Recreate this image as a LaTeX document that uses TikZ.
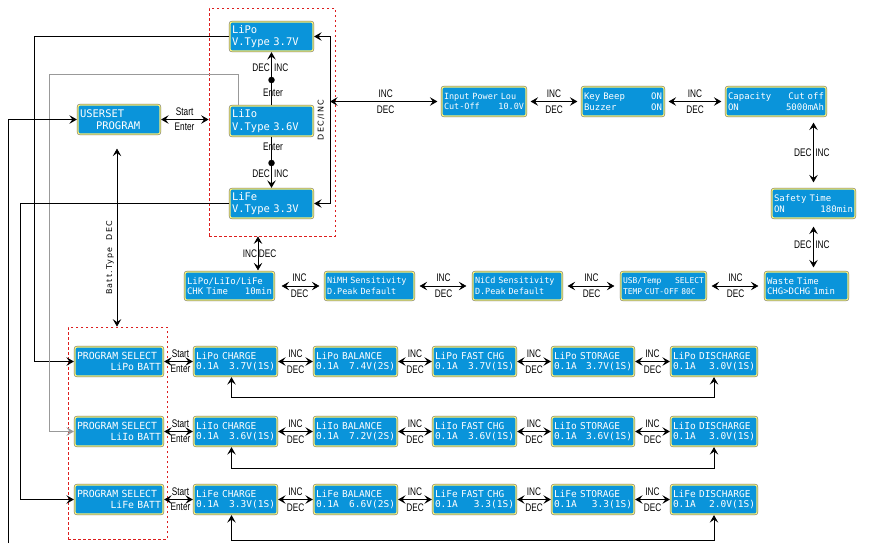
\documentclass[tikz,border=0pt]{standalone}
\usepackage{fontspec}
\setmainfont{Liberation Sans}
\newfontfamily\lcdfont{DejaVu Sans Mono}
\newfontfamily\labfont[FakeStretch=0.75]{Liberation Sans}
\newfontfamily\rotfont[LetterSpace=15]{DejaVu Sans}
\usetikzlibrary{arrows.meta,calc}
\definecolor{lcdblue}{RGB}{10,148,218}
\definecolor{lcdyellow}{RGB}{248,240,120}
\definecolor{lcdedge}{RGB}{110,110,100}
\definecolor{dashred}{RGB}{220,30,30}
\newcommand\lcdbox[7][]{%
  \pgfmathsetmacro\lcdW{#5-#3}%
  \pgfmathsetmacro\lcdH{#6-#4}%
  \pgfmathsetmacro\lcdT{#5-#3-4}%
  \pgfmathsetmacro\lcdX{(#3+#5)/2}%
  \pgfmathsetmacro\lcdY{(#4+#6)/2}%
  \node[lcd, minimum width=\lcdW pt, minimum height=\lcdH pt, text width=\lcdT pt, #1] (#2) at (\lcdX,\lcdY) {#7};}
\tikzset{
  lcd/.style={rectangle, rounded corners=2pt, fill=lcdblue, draw=lcdyellow, line width=1.2pt,
    preaction={draw=lcdedge, line width=2.2pt}, text=white,
    font=\lcdfont\fontsize{9}{10.5}\selectfont, inner sep=1.5pt, align=left},
  bigl/.style={font=\lcdfont\fontsize{10.5}{12.5}\selectfont},
  midl/.style={font=\lcdfont\fontsize{9.8}{11}\selectfont},
  botl/.style={font=\lcdfont\fontsize{9.5}{10.5}\selectfont},
  sml/.style={font=\lcdfont\fontsize{8.5}{10.5}\selectfont},
  smll/.style={font=\lcdfont\fontsize{8}{10.5}\selectfont},
  tipst/.tip={Stealth[length=7.5pt,width=8.5pt,inset=3pt]},
  arr/.style={-tipst, line width=0.8pt},
  darr/.style={tipst-tipst, line width=0.8pt},
  lab/.style={font=\labfont\fontsize{11}{12}\selectfont, inner sep=0pt},
  rot/.style={font=\rotfont\fontsize{8}{9}\selectfont, inner sep=0pt, rotate=90},
  dashbox/.style={draw=dashred, dash pattern=on 2.5pt off 2.5pt, line width=0.8pt, inner sep=0pt},
  dotn/.style={circle, fill=black, inner sep=0pt, minimum size=6.5pt},
  inclab/.style={lab, anchor=south, yshift=3.5pt},
  declab/.style={lab, anchor=north, yshift=-3.5pt}
}
\begin{document}
\begin{tikzpicture}[x=1pt, y=-1pt]
\useasboundingbox (0,0) rectangle (870,555);
% dashed frames
\node[dashbox, minimum width=126pt, minimum height=228pt] (dbTop) at (272,122) {};
\node[dashbox, minimum width=99pt, minimum height=212pt] (dbBot) at (117.5,433) {};
% top battery type boxes
\lcdbox[bigl]{tLiPo}{230}{22}{313}{51}{LiPo\\V.Type 3.7V}
\lcdbox[bigl]{tLiIo}{230}{106}{313}{136}{LiIo\\V.Type 3.6V}
\lcdbox[bigl]{tLiFe}{230}{189}{313}{218}{LiFe\\V.Type 3.3V}
\lcdbox[bigl]{user}{78}{105}{160}{134}{USERSET\\\hspace*{16pt}PROGRAM}
% settings top row
\lcdbox[sml]{ip}{442}{87}{526}{116}{Input Power Lou\\Cut-Off\hfill 10.0V}
\lcdbox{kb}{582}{87}{664}{116}{Key Beep\hfill ON\\Buzzer\hfill ON}
\lcdbox{cap}{726}{87}{826}{116}{Capacity\hfill Cut off\\ON\hfill 5000mAh}
\lcdbox{safe}{772}{189}{855}{218}{Safety Time\\ON\hfill 180min}
% settings second row
\lcdbox{waste}{765}{272}{848}{300}{Waste Time\\CHG>DCHG 1min}
\lcdbox[smll]{usb}{621}{272}{706}{300}{USB/Temp\hfill SELECT\\TEMP CUT-OFF 80C}
\lcdbox[sml]{nicd}{473}{272}{562}{300}{NiCd Sensitivity\\D.Peak Default}
\lcdbox[sml]{nimh}{325}{272}{414}{300}{NiMH Sensitivity\\D.Peak Default}
\lcdbox{chk}{185}{272}{274}{300}{LiPo/LiIo/LiFe\\CHK Time\hfill 10min}
% program rows
\lcdbox[midl]{p1}{75}{347}{163}{376}{PROGRAM SELECT\\\hspace*{\fill}LiPo BATT}
\lcdbox[botl]{c1}{194}{347}{277}{376}{LiPo CHARGE\\0.1A\hfill 3.7V(1S)}
\lcdbox[botl]{b1}{314}{347}{397}{376}{LiPo BALANCE\\0.1A\hfill 7.4V(2S)}
\lcdbox[botl]{f1}{433}{347}{516}{376}{LiPo FAST CHG\\0.1A\hfill 3.7V(1S)}
\lcdbox[botl]{s1}{552}{347}{634}{376}{LiPo STORAGE\\0.1A\hfill 3.7V(1S)}
\lcdbox[botl]{d1}{671}{347}{757}{376}{LiPo DISCHARGE\\0.1A\hfill 3.0V(1S)}
\lcdbox[midl]{p2}{75}{417}{163}{446}{PROGRAM SELECT\\\hspace*{\fill}LiIo BATT}
\lcdbox[botl]{c2}{194}{417}{277}{446}{LiIo CHARGE\\0.1A\hfill 3.6V(1S)}
\lcdbox[botl]{b2}{314}{417}{397}{446}{LiIo BALANCE\\0.1A\hfill 7.2V(2S)}
\lcdbox[botl]{f2}{433}{417}{516}{446}{LiIo FAST CHG\\0.1A\hfill 3.6V(1S)}
\lcdbox[botl]{s2}{552}{417}{634}{446}{LiIo STORAGE\\0.1A\hfill 3.6V(1S)}
\lcdbox[botl]{d2}{671}{417}{757}{446}{LiIo DISCHARGE\\0.1A\hfill 3.0V(1S)}
\lcdbox[midl]{p3}{75}{485}{163}{514}{PROGRAM SELECT\\\hspace*{\fill}LiFe BATT}
\lcdbox[botl]{c3}{194}{485}{277}{514}{LiFe CHARGE\\0.1A\hfill 3.3V(1S)}
\lcdbox[botl]{b3}{314}{485}{397}{514}{LiFe BALANCE\\0.1A\hfill 6.6V(2S)}
\lcdbox[botl]{f3}{433}{485}{516}{514}{LiFe FAST CHG\\0.1A\hfill 3.3(1S)}
\lcdbox[botl]{s3}{552}{485}{634}{514}{LiFe STORAGE\\0.1A\hfill 3.3(1S)}
\lcdbox[botl]{d3}{671}{485}{757}{514}{LiFe DISCHARGE\\0.1A\hfill 2.0V(1S)}

% vertical connectors within top frame
\node[dotn] (dot1) at (271.5,80) {};
\node[dotn] (dot2) at (271.5,163) {};
\draw[arr, shorten >=0.5pt] (tLiIo.north) -- (dot1.center) -- (tLiPo.south);
\draw[arr, shorten >=0.5pt] (tLiIo.south) -- (dot2.center) -- (tLiFe.north);
\node[lab, anchor=east] at (270,68) {DEC};
\node[lab, anchor=west] at (274,68) {INC};
\node[lab] at (273,93) {Enter};
\node[lab] at (273,147) {Enter};
\node[lab, anchor=east] at (270,174) {DEC};
\node[lab, anchor=west] at (274,174) {INC};
% right side DEC/INC loop
\coordinate (rA) at (330,36.5);
\coordinate (rB) at (330,203.5);
\coordinate (rM) at (330,101.5);
\draw[darr, shorten <=0.5pt, shorten >=0.5pt] (tLiPo.east) -- (tLiPo.east -| rA) -- (tLiFe.east -| rB) -- (tLiFe.east);
\node[rot] at (321,120) {DEC/INC};
\draw[darr, shorten >=4pt] (rM) -- (ip.west)
  node[midway, inclab] {INC} node[midway, declab] {DEC};
% top row
\draw[darr, shorten <=4pt, shorten >=4pt] (ip.east) -- (kb.west)
  node[midway, inclab] {INC} node[midway, declab] {DEC};
\draw[darr, shorten <=4pt, shorten >=4pt] (kb.east) -- (cap.west)
  node[midway, inclab] {INC} node[midway, declab] {DEC};
\draw[darr, shorten <=6pt, shorten >=6pt] (safe.north |- cap.south) -- (safe.north)
  node[midway, lab, anchor=east, xshift=-1.5pt] {DEC} node[midway, lab, anchor=west, xshift=1.5pt] {INC};
\draw[darr, shorten <=8pt, shorten >=4pt] (safe.south) -- (safe.south |- waste.north)
  node[midway, lab, anchor=east, xshift=-1.5pt] {DEC} node[midway, lab, anchor=west, xshift=1.5pt] {INC};
% second row
\draw[darr, shorten <=6pt, shorten >=5pt] (waste.west) -- (usb.east)
  node[midway, inclab] {INC} node[midway, declab] {DEC};
\draw[darr, shorten <=6pt, shorten >=5pt] (usb.west) -- (nicd.east)
  node[midway, inclab] {INC} node[midway, declab] {DEC};
\draw[darr, shorten <=6pt, shorten >=5pt] (nicd.west) -- (nimh.east)
  node[midway, inclab] {INC} node[midway, declab] {DEC};
\draw[darr, shorten <=5pt, shorten >=7pt] (nimh.west) -- (chk.east)
  node[midway, inclab] {INC} node[midway, declab] {DEC};
\coordinate (ck) at ([xshift=28.5pt]chk.north);
\draw[darr, shorten <=1pt] (ck) -- (ck |- dbTop.south)
  node[midway, lab, anchor=east, xshift=-0.5pt] {INC} node[midway, lab, anchor=west, xshift=0.5pt] {DEC};
% USERSET connections
\draw[darr, shorten <=0.5pt] (user.east) -- (user.east -| dbTop.west)
  node[midway, inclab, yshift=-0.5pt] {Start} node[midway, declab, yshift=0.5pt] {Enter};
\draw[darr, shorten <=14pt] ([xshift=-2pt]user.south) -- ([xshift=-2pt]user.south |- dbBot.north);
\node[rot] at (110,258) {Batt.Type\ \ DEC};
% long left lines
\coordinate (L1) at (34,0);
\coordinate (L2) at (49,74);
\coordinate (L3) at (20,0);
\coordinate (L4) at (8,543);
\draw[arr, shorten >=0.5pt] (tLiPo.west) -- (tLiPo.west -| L1) -- (L1 |- p1.west) -- (p1.west);
\draw[arr, draw=black!40, shorten >=0.5pt] ([xshift=-33.5pt]tLiIo.north) -- ([xshift=-33.5pt]tLiIo.north |- L2) -- (L2) -- (L2 |- p2.west) -- (p2.west);
\draw[arr, shorten >=0.5pt] (tLiFe.west) -- (tLiFe.west -| L3) -- (L3 |- p3.west) -- (p3.west);
\draw[arr, shorten >=0.5pt] (L4) -- (L4 |- user.west) -- (user.west);
% program rows connectors
\foreach \r/\ra in {1/397,2/468,3/540}{
  \draw[darr, shorten <=0.5pt, shorten >=0.5pt] (p\r.east) -- (c\r.west)
    node[midway, inclab, xshift=2pt] {Start} node[midway, declab, xshift=2pt] {Enter};
  \draw[darr, shorten <=0.5pt, shorten >=0.5pt] (c\r.east) -- (b\r.west)
    node[midway, inclab] {INC} node[midway, declab] {DEC};
  \draw[darr, shorten <=0.5pt, shorten >=0.5pt] (b\r.east) -- (f\r.west)
    node[midway, inclab] {INC} node[midway, declab] {DEC};
  \draw[darr, shorten <=0.5pt, shorten >=0.5pt] (f\r.east) -- (s\r.west)
    node[midway, inclab] {INC} node[midway, declab] {DEC};
  \draw[darr, shorten <=0.5pt, shorten >=0.5pt] (s\r.east) -- (d\r.west)
    node[midway, inclab] {INC} node[midway, declab] {DEC};
  \coordinate (R\r) at (0,\ra);
  \draw[darr, shorten <=0.5pt, shorten >=0.5pt] ([xshift=-4pt]c\r.south) -- ([xshift=-4pt]c\r.south |- R\r) -- (d\r.south |- R\r) -- (d\r.south);
}
\end{tikzpicture}
\end{document}
